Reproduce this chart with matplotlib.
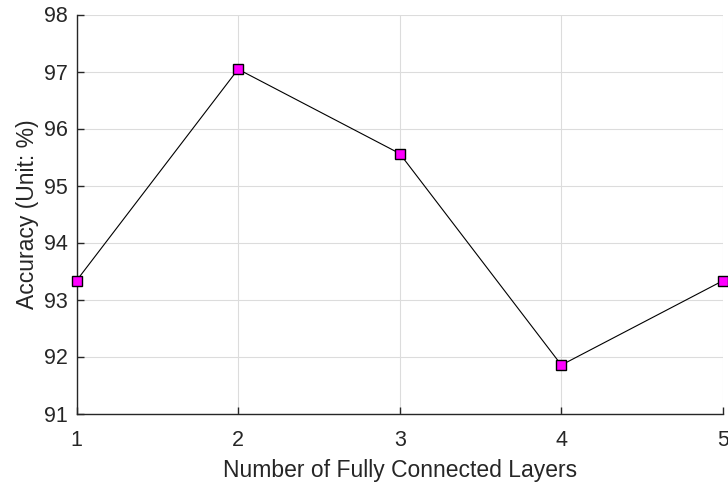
import matplotlib
matplotlib.use("Agg")
from matplotlib import pyplot as plt

plt.rcParams['font.family'] = ['Liberation Sans', 'DejaVu Sans']

layers = [1, 2, 3, 4, 5]
accuracy = [93.33, 97.04, 95.56, 91.85, 93.33]
yticks = [91, 92, 93, 94, 95, 96, 97, 98]

fig = plt.figure(figsize=(7.28, 4.83), dpi=100)
ax = fig.add_axes([76.5 / 728, 1 - 413.5 / 483, (723 - 76.5) / 728, (413.5 - 14.5) / 483])

ax.plot(layers, accuracy, color='black', linewidth=0.8, marker='s',
        markersize=7, markerfacecolor='#FF00FF', markeredgecolor='black',
        markeredgewidth=1.0, zorder=3, clip_on=False)

ax.set_xlim(1, 5)
ax.set_ylim(91, 98)
ax.set_xticks(layers)
ax.set_yticks(yticks)
ax.grid(True, color='#dcdcdc', linewidth=0.8)
ax.set_axisbelow(True)

for side in ['top', 'right']:
    ax.spines[side].set_visible(False)
for side in ['left', 'bottom']:
    ax.spines[side].set_linewidth(1.0)
    ax.spines[side].set_color('#262626')

ax.tick_params(direction='in', length=5, width=1.0, color='#262626',
               labelsize=15.5, labelcolor='#262626')
ax.tick_params(axis='x', pad=12)
ax.tick_params(axis='y', pad=6)
ax.set_xlabel('Number of Fully Connected Layers', fontsize=16.5, color='#262626', labelpad=6)
ax.set_ylabel('Accuracy (Unit: %)', fontsize=16.5, color='#262626', labelpad=4)

fig.savefig('out.png', dpi=100)
